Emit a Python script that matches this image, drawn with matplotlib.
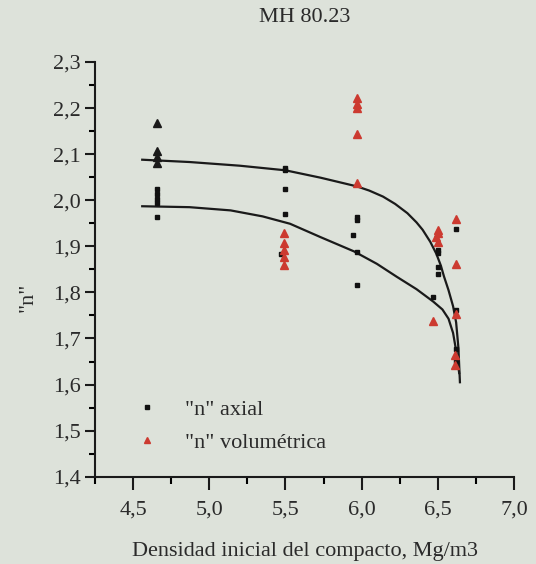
import matplotlib
matplotlib.use("Agg")
import matplotlib.pyplot as plt
from matplotlib.ticker import MultipleLocator, FuncFormatter

plt.rcParams['font.family'] = ['Liberation Serif', 'DejaVu Serif']

BG = '#dde2da'
RED = '#cc3a30'
INK = '#2a2a2a'

# "n" axial (squares)
axial_x = [4.655, 4.655, 4.655, 4.655, 4.655,
           5.50, 5.50, 5.50, 5.50, 5.47,
           5.967, 5.967, 5.945, 5.967, 5.967,
           6.50, 6.50, 6.50, 6.50, 6.47,
           6.62, 6.62, 6.62, 6.62]
axial_y = [2.025, 2.014, 2.003, 1.993, 1.964,
           2.071, 2.065, 2.024, 1.970, 1.883,
           1.964, 1.957, 1.925, 1.888, 1.817,
           1.891, 1.885, 1.855, 1.841, 1.790,
           1.938, 1.762, 1.678, 1.652]

# "n" volumétrica (triangles)
vol_x = [5.49, 5.49, 5.49, 5.49, 5.49,
         5.967, 5.967, 5.967, 5.967, 5.967,
         6.50, 6.50, 6.49, 6.50, 6.47,
         6.62, 6.62, 6.62, 6.615, 6.615]
vol_y = [1.929, 1.907, 1.893, 1.877, 1.859,
         2.222, 2.210, 2.200, 2.143, 2.038,
         1.935, 1.928, 1.920, 1.909, 1.738,
         1.960, 1.862, 1.754, 1.665, 1.643]

# first density, printed dark
vol0_x = [4.655, 4.655, 4.655, 4.655]
vol0_y = [2.167, 2.106, 2.093, 2.080]

# fitted trend lines
upper_x = [4.56, 4.87, 5.20, 5.50, 5.73, 5.97, 6.05, 6.14, 6.22, 6.30,
           6.36, 6.40, 6.45, 6.49, 6.52, 6.54, 6.57, 6.60, 6.62, 6.635, 6.645]
upper_y = [2.088, 2.083, 2.075, 2.065, 2.049, 2.030, 2.021, 2.008, 1.992, 1.972,
           1.952, 1.936, 1.910, 1.884, 1.858, 1.835, 1.805, 1.770, 1.735, 1.680, 1.605]
lower_x = [4.56, 4.87, 5.14, 5.35, 5.53, 5.73, 5.95, 6.10, 6.23, 6.36,
           6.47, 6.53, 6.57, 6.60, 6.623, 6.64]
lower_y = [1.987, 1.985, 1.978, 1.965, 1.949, 1.920, 1.889, 1.862, 1.834, 1.807,
           1.780, 1.763, 1.743, 1.712, 1.668, 1.625]

fig = plt.figure(figsize=(5.36, 5.64), dpi=100, facecolor=BG)
ax = fig.add_axes([0.1772, 0.1548, 0.959 - 0.1772, 0.890 - 0.1548])
ax.set_facecolor(BG)

ax.plot(upper_x, upper_y, color='#1a1a1a', lw=1.6, zorder=2)
ax.plot(lower_x, lower_y, color='#1a1a1a', lw=1.6, zorder=2)

ax.plot(axial_x, axial_y, ls='none', marker='s', ms=3.4, color='#111111',
        label='"n" axial', zorder=3)
ax.plot(vol_x, vol_y, ls='none', marker='^', ms=6, color=RED,
        label='"n" volumétrica', zorder=3)
ax.plot(vol0_x, vol0_y, ls='none', marker='^', ms=6, color='#1a1a1a', zorder=3)

ax.set_xlim(4.25, 7.0)
ax.set_ylim(1.4, 2.3)
ax.xaxis.set_major_locator(MultipleLocator(0.5))
ax.xaxis.set_minor_locator(MultipleLocator(0.25))
ax.yaxis.set_major_locator(MultipleLocator(0.1))
ax.yaxis.set_minor_locator(MultipleLocator(0.05))
comma = FuncFormatter(lambda v, p: f"{v:.1f}".replace('.', ','))
ax.xaxis.set_major_formatter(comma)
ax.yaxis.set_major_formatter(comma)
ax.set_xticks([4.5, 5.0, 5.5, 6.0, 6.5, 7.0])

for s in ['top', 'right']:
    ax.spines[s].set_visible(False)
for s in ['left', 'bottom']:
    ax.spines[s].set_linewidth(1.5)
    ax.spines[s].set_color('#1a1a1a')

ax.tick_params(axis='both', which='major', labelsize=16, width=1.5, color='#1a1a1a',
               labelcolor=INK)
ax.tick_params(axis='y', which='major', length=7, pad=3)
ax.tick_params(axis='y', which='minor', length=4, width=1.5)
ax.tick_params(axis='x', which='major', length=9, pad=8)
ax.tick_params(axis='x', which='minor', length=5, width=1.5)

ax.set_title('MH 80.23', fontsize=16, color=INK, pad=29)
ax.set_xlabel('Densidad inicial del compacto, Mg/m3', fontsize=16, color=INK,
              labelpad=16)
ax.set_ylabel('"n"', fontsize=16, color=INK)
ax.yaxis.set_label_coords(-0.136, 0.433)

leg = ax.legend(loc='lower left', bbox_to_anchor=(0.05, 0.01), frameon=False,
                fontsize=16, handlelength=1.0, handletextpad=1.2, labelspacing=0.55,
                numpoints=1, markerscale=0.8)
for t in leg.get_texts():
    t.set_color(INK)

fig.savefig('out.png', dpi=100, facecolor=BG)
